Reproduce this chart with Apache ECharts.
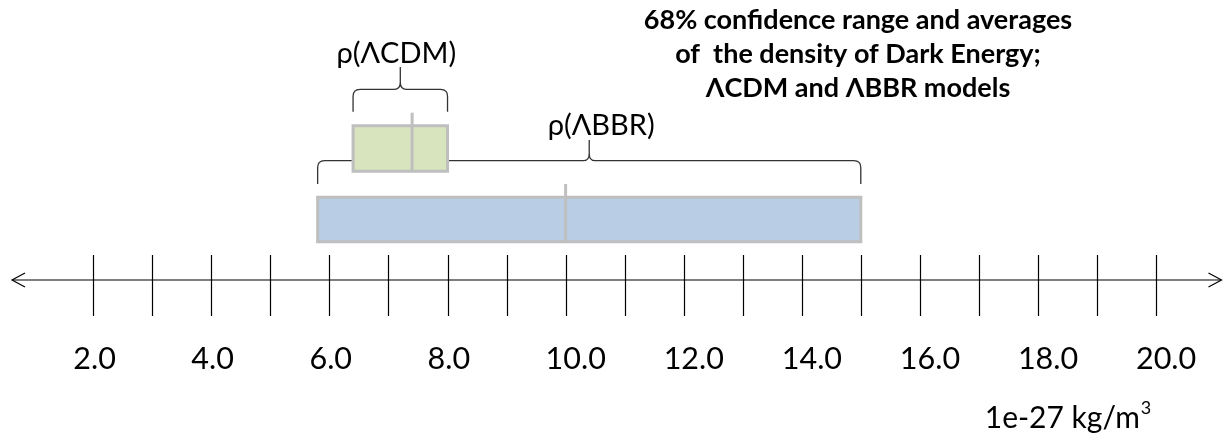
<!DOCTYPE html>
<html><head><meta charset="utf-8">
<script src="https://cdn.jsdelivr.net/npm/echarts@6/dist/echarts.min.js"></script>
<style>html,body{margin:0;padding:0;background:#fff}#chart{width:1226px;height:434px}</style>
</head><body><div id="chart"></div>
<script>
// ---- data ----
const tickValues = [2,3,4,5,6,7,8,9,10,11,12,13,14,15,16,17,18,19,20];
const labelValues = [2,4,6,8,10,12,14,16,18,20];
const tickLabels = ['2.0','4.0','6.0','8.0','10.0','12.0','14.0','16.0','18.0','20.0'];
const models = ['ρ(ΛCDM)','ρ(ΛBBR)'];
const rangeLow = [6.4, 5.8];
const rangeHigh = [8.0, 15.0];
const averages = [7.4, 10.0];
const unitBase = '1e-27 kg/m';
const unitSup = '3';
const titleText = '68% confidence range and averages\nof  the density of Dark Energy;\nΛCDM and ΛBBR models';

// ---- style / layout ----
const boxColors = ['#d7e4bd','#b9cde5'];
const FONT = 'Lato, "Open Sans", sans-serif';
const X_MIN = 0.623, X_MAX = 21.118;
const AXIS_Y = 280;
const rowLayout = [
  {boxTop:125.8, boxBottom:171.2, medTop:112.7, braceEnd:111.7, braceLine:89.3, braceTip:67, labelY:54, labelDx:-4},
  {boxTop:197.2, boxBottom:241.8, medTop:184, braceEnd:184, braceLine:160.7, braceTip:140, labelY:126, labelDx:12}
];

const chart = echarts.init(document.getElementById('chart'), null, {renderer:'canvas'});

function px(api, v){ return api.coord([v, 0])[0]; }
function py(api, y){ return api.coord([X_MIN, y])[1]; }

const rows = models.map((m,i)=>[rangeLow[i], rangeHigh[i], averages[i], i]);

const option = {
  animation: false,
  backgroundColor: '#fff',
  title: {
    text: titleText, left: 858, top: 3, textAlign: 'center', padding: 0,
    textStyle: {fontFamily: FONT, fontWeight: 'bold', fontSize: 27, lineHeight: 34, color: '#000'}
  },
  grid: {left: 12, right: 4, top: 0, bottom: 0, containLabel: false},
  xAxis: {type: 'value', min: X_MIN, max: X_MAX, show: false},
  yAxis: {type: 'value', min: 0, max: 434, inverse: true, show: false},
  graphic: [{
    type: 'text', x: 1068, y: 416,
    style: {
      text: '{b|' + unitBase + '}{s|' + unitSup + '}',
      align: 'center', verticalAlign: 'middle',
      rich: {
        b: {fontFamily: FONT, fontSize: 30, lineHeight: 34, fill: '#000', color: '#000', verticalAlign: 'bottom'},
        s: {fontFamily: FONT, fontSize: 18, lineHeight: 34, fill: '#000', color: '#000', verticalAlign: 'top', padding: [0, 0, 0, 1]}
      }
    }
  }],
  series: [
    { // braces
      type: 'custom', name: 'braces', z: 1, clip: false, silent: true,
      data: rows,
      renderItem: function(params, api){
        const i = api.value(3), L = rowLayout[i];
        const x0 = px(api, api.value(0)), x1 = px(api, api.value(1)), xc = (x0 + x1) / 2;
        const yE = py(api, L.braceEnd), yL = py(api, L.braceLine), yT = py(api, L.braceTip);
        const r = 7, rc = 6;
        const d = `M${x0} ${yE} L${x0} ${yL + r} Q${x0} ${yL} ${x0 + r} ${yL} L${xc - rc} ${yL} Q${xc} ${yL} ${xc} ${yL - r} L${xc} ${yT} ` +
                  `M${xc} ${yL - r} Q${xc} ${yL} ${xc + rc} ${yL} L${x1 - r} ${yL} Q${x1} ${yL} ${x1} ${yL + r} L${x1} ${yE}`;
        return {type: 'path', shape: {pathData: d}, style: {stroke: '#333', lineWidth: 1.3, fill: null}};
      }
    },
    { // boxes
      type: 'custom', name: 'ranges', z: 3, clip: false, silent: true,
      data: rows,
      renderItem: function(params, api){
        const i = api.value(3), L = rowLayout[i];
        const x0 = px(api, api.value(0)), x1 = px(api, api.value(1));
        const y0 = py(api, L.boxTop), y1 = py(api, L.boxBottom);
        return {type: 'rect', shape: {x: x0, y: y0, width: x1 - x0, height: y1 - y0},
                style: {fill: boxColors[i], stroke: '#bfbfbf', lineWidth: 3}};
      }
    },
    { // averages
      type: 'custom', name: 'averages', z: 4, clip: false, silent: true,
      data: rows,
      renderItem: function(params, api){
        const i = api.value(3), L = rowLayout[i];
        const x = px(api, api.value(2));
        return {type: 'line', shape: {x1: x, y1: py(api, L.medTop), x2: x, y2: py(api, L.boxBottom)},
                style: {stroke: '#bfbfbf', lineWidth: 3}};
      }
    },
    { // model labels
      type: 'custom', name: 'labels', z: 5, clip: false, silent: true,
      data: rows,
      renderItem: function(params, api){
        const i = api.value(3), L = rowLayout[i];
        const xc = (px(api, api.value(0)) + px(api, api.value(1))) / 2 + L.labelDx;
        return {type: 'text', x: xc, y: py(api, L.labelY),
                style: {text: models[i], fill: '#000', font: '29px ' + FONT, align: 'center', verticalAlign: 'middle'}};
      }
    },
    { // axis line with open arrows
      type: 'custom', name: 'axis', z: 2, clip: false, silent: true,
      data: [[X_MIN, X_MAX]],
      renderItem: function(params, api){
        const xa = px(api, api.value(0)) , xb = px(api, api.value(1)) - 0.5, y = py(api, AXIS_Y);
        const st = {stroke: '#000', lineWidth: 1.2, fill: null};
        return {type: 'group', children: [
          {type: 'line', shape: {x1: xa, y1: y, x2: xb, y2: y}, style: st},
          {type: 'polyline', shape: {points: [[xa + 13, y - 7], [xa, y], [xa + 13, y + 7]]}, style: st},
          {type: 'polyline', shape: {points: [[xb - 13, y - 7], [xb, y], [xb - 13, y + 7]]}, style: st}
        ]};
      }
    },
    { // ticks
      type: 'custom', name: 'ticks', z: 2, clip: false, silent: true,
      data: tickValues.map(v => [v]),
      renderItem: function(params, api){
        const x = Math.round(px(api, api.value(0))) + 0.5;
        return {type: 'line', shape: {x1: x, y1: py(api, AXIS_Y - 25), x2: x, y2: py(api, AXIS_Y + 36)},
                style: {stroke: '#000', lineWidth: 1.2}};
      }
    },
    { // tick labels
      type: 'custom', name: 'tickLabels', z: 2, clip: false, silent: true,
      data: labelValues.map((v, i) => [v, i]),
      renderItem: function(params, api){
        const x = px(api, api.value(0)) - 20;
        return {type: 'text', x: x, y: py(api, 359),
                style: {text: tickLabels[api.value(1)], fill: '#000', font: '30.5px ' + FONT, align: 'left', verticalAlign: 'middle'}};
      }
    }
  ]
};
chart.setOption(option);
</script>
</body></html>
